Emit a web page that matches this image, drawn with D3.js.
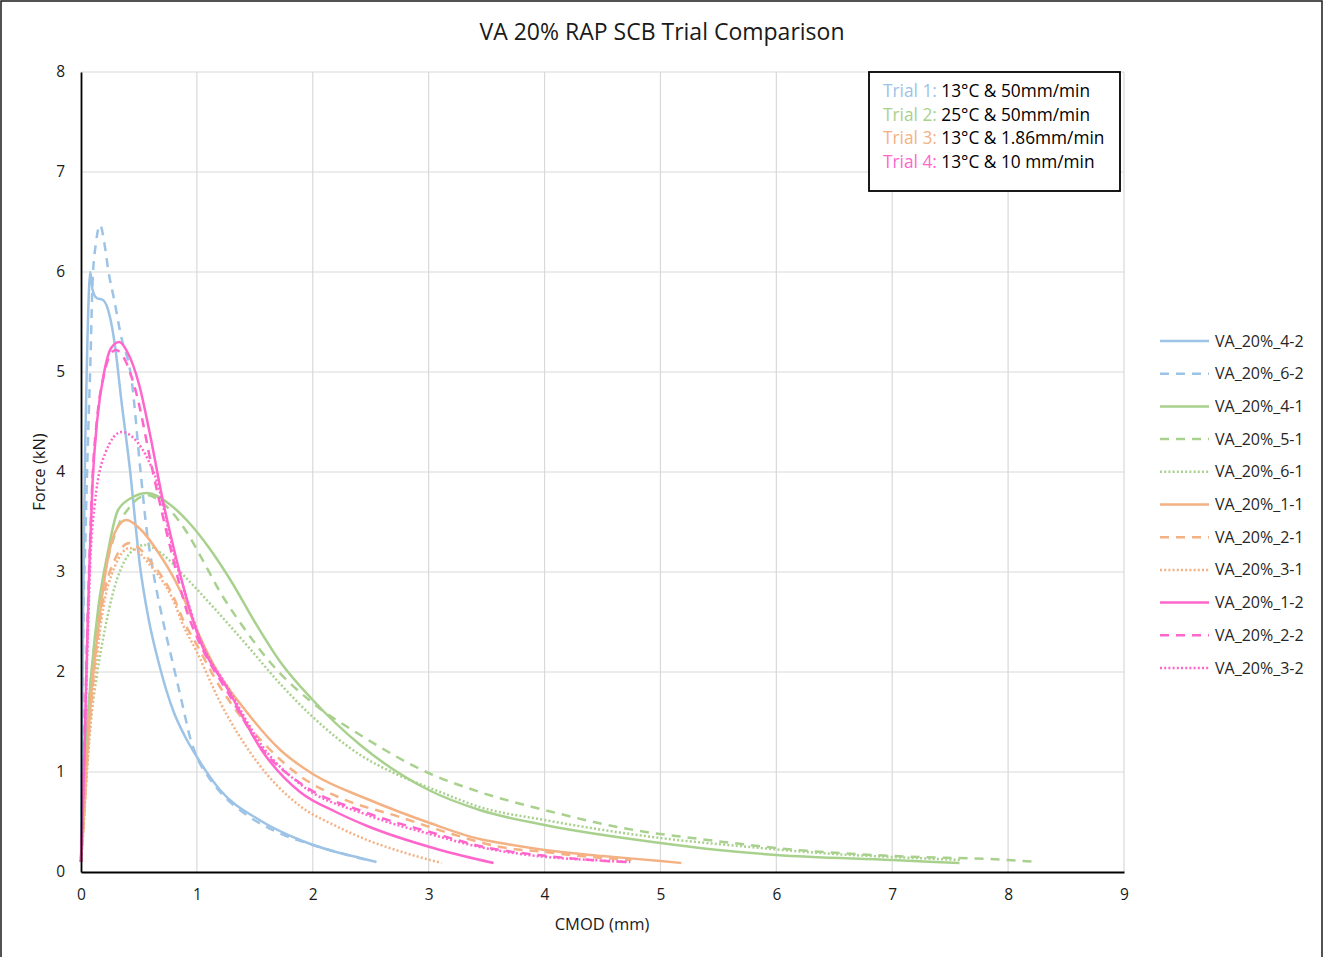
<!DOCTYPE html>
<html>
<head>
<meta charset="utf-8">
<script src="https://cdnjs.cloudflare.com/ajax/libs/d3/7.8.5/d3.min.js"></script>
<style>
  body { margin: 0; background: #fff; }
  svg { display: block; font-family: "Open Sans", "Noto Sans", sans-serif; }
  .grid line { stroke: #d9d9d9; stroke-width: 1.2; }
  .axis text { fill: #1a1a1a; font-size: 15.5px; font-family: "Open Sans", "Noto Sans", sans-serif; }
  .axis path { stroke: #000; stroke-width: 1.8; }
</style>
</head>
<body>
<script>
// CMOD (mm), Force (kN)
var va_4_2 = [[0,0.1],[0.01,1.5],[0.02,2.8],[0.035,4.2],[0.055,5.3],[0.08,6.0],[0.1,5.82],[0.135,5.74],[0.19,5.72],[0.25,5.55],[0.29,5.29],[0.35,4.7],[0.42,4.05],[0.51,3.05],[0.58,2.55],[0.68,2.05],[0.8,1.6],[0.9,1.35],[1.0,1.15],[1.2,0.82],[1.54,0.52],[1.89,0.32],[2.2,0.2],[2.41,0.14],[2.55,0.1]];
var va_6_2 = [[0,0.1],[0.01,1.0],[0.02,2.5],[0.035,3.2],[0.05,3.9],[0.065,4.5],[0.08,5.05],[0.1,5.9],[0.13,6.3],[0.165,6.47],[0.2,6.3],[0.235,6.02],[0.29,5.7],[0.34,5.39],[0.44,4.89],[0.51,4.05],[0.57,3.39],[0.62,3.02],[0.7,2.55],[0.8,2.05],[0.88,1.65],[0.94,1.35],[1.0,1.15],[1.1,0.95],[1.2,0.8],[1.43,0.57],[1.69,0.4],[2.0,0.27],[2.3,0.17],[2.5,0.11]];
var va_4_1 = [[0,0.1],[0.02,0.7],[0.05,1.4],[0.09,2.0],[0.15,2.65],[0.23,3.19],[0.32,3.62],[0.45,3.75],[0.57,3.79],[0.75,3.69],[0.95,3.47],[1.1,3.25],[1.3,2.9],[1.5,2.5],[1.72,2.1],[2.0,1.72],[2.41,1.27],[3.0,0.82],[3.44,0.62],[4.0,0.47],[5.0,0.29],[5.5,0.22],[6.0,0.17],[7.0,0.12],[7.58,0.09]];
var va_5_1 = [[0,0.1],[0.03,0.9],[0.07,1.7],[0.13,2.4],[0.2,2.95],[0.3,3.4],[0.42,3.65],[0.57,3.77],[0.67,3.72],[0.9,3.42],[1.04,3.14],[1.2,2.8],[1.4,2.45],[1.63,2.1],[2.0,1.69],[2.41,1.37],[2.98,1.0],[3.44,0.8],[4.0,0.62],[4.77,0.42],[5.34,0.33],[5.77,0.27],[6.0,0.24],[7.0,0.16],[8.0,0.12],[8.26,0.1]];
var va_6_1 = [[0,0.1],[0.02,0.45],[0.05,0.99],[0.08,1.45],[0.135,1.95],[0.21,2.45],[0.29,2.85],[0.38,3.12],[0.45,3.22],[0.55,3.27],[0.7,3.18],[0.9,2.95],[1.14,2.65],[1.43,2.27],[1.72,1.88],[2.0,1.55],[2.41,1.17],[2.7,0.99],[3.1,0.8],[3.44,0.65],[4.0,0.52],[5.0,0.34],[5.77,0.25],[6.5,0.18],[7.0,0.15],[7.6,0.12]];
var va_1_1 = [[0,0.1],[0.02,0.45],[0.05,1.12],[0.09,1.79],[0.15,2.45],[0.23,3.12],[0.29,3.39],[0.39,3.52],[0.52,3.42],[0.67,3.19],[0.81,2.92],[0.92,2.65],[1.0,2.42],[1.14,2.08],[1.43,1.6],[1.72,1.22],[2.0,0.98],[2.47,0.73],[3.01,0.49],[3.44,0.33],[3.62,0.29],[4.0,0.22],[4.5,0.16],[5.0,0.11],[5.18,0.09]];
var va_2_1 = [[0,0.1],[0.02,0.42],[0.05,1.05],[0.09,1.7],[0.18,2.65],[0.29,3.12],[0.42,3.29],[0.61,3.09],[0.81,2.72],[0.87,2.55],[1.0,2.27],[1.2,1.85],[1.43,1.48],[1.6,1.26],[1.89,0.96],[2.2,0.76],[2.75,0.55],[3.2,0.38],[3.62,0.25],[4.0,0.2],[4.4,0.15],[4.75,0.12]];
var va_3_1 = [[0,0.1],[0.02,0.4],[0.05,1.0],[0.1,1.7],[0.18,2.55],[0.29,3.05],[0.42,3.24],[0.61,3.05],[0.81,2.68],[0.87,2.5],[1.0,2.2],[1.2,1.7],[1.52,1.1],[1.89,0.66],[2.2,0.46],[2.47,0.32],[2.8,0.19],[3.11,0.09]];
var va_1_2 = [[0,0.1],[0.02,0.8],[0.035,1.45],[0.057,2.45],[0.075,3.15],[0.1,3.9],[0.14,4.52],[0.2,5.0],[0.26,5.24],[0.33,5.3],[0.4,5.2],[0.5,4.88],[0.6,4.35],[0.7,3.75],[0.81,3.19],[0.95,2.58],[1.0,2.4],[1.29,1.78],[1.57,1.2],[1.89,0.8],[2.2,0.6],[2.47,0.46],[3.04,0.24],[3.3,0.16],[3.56,0.09]];
var va_2_2 = [[0,0.1],[0.02,0.85],[0.035,1.5],[0.055,2.45],[0.075,3.2],[0.1,3.95],[0.14,4.55],[0.2,4.98],[0.25,5.17],[0.3,5.22],[0.38,5.12],[0.47,4.82],[0.62,4.0],[0.78,3.2],[0.93,2.55],[1.0,2.35],[1.29,1.75],[1.57,1.22],[1.89,0.89],[2.47,0.59],[3.04,0.39],[3.44,0.26],[4.02,0.16],[4.4,0.12],[4.71,0.1]];
var va_3_2 = [[0,0.1],[0.02,0.8],[0.04,1.6],[0.06,2.4],[0.08,3.1],[0.12,3.69],[0.21,4.19],[0.35,4.4],[0.47,4.32],[0.58,4.12],[0.67,3.85],[0.72,3.6],[0.81,3.15],[0.95,2.6],[1.0,2.42],[1.29,1.8],[1.57,1.25],[1.89,0.88],[2.47,0.57],[3.04,0.37],[3.44,0.25],[4.02,0.15],[4.4,0.12],[4.74,0.1]];

var seriesNames = ["VA_20%_4-2","VA_20%_6-2","VA_20%_4-1","VA_20%_5-1","VA_20%_6-1","VA_20%_1-1","VA_20%_2-1","VA_20%_3-1","VA_20%_1-2","VA_20%_2-2","VA_20%_3-2"];
var seriesData = [va_4_2, va_6_2, va_4_1, va_5_1, va_6_1, va_1_1, va_2_1, va_3_1, va_1_2, va_2_2, va_3_2];
var seriesTrial = [0,0,1,1,1,2,2,2,3,3,3];
var seriesStyle = ["solid","dash","solid","dash","dot","solid","dash","dot","solid","dash","dot"];

var trialLabels = ["Trial 1:","Trial 2:","Trial 3:","Trial 4:"];
var trialText = ["13°C & 50mm/min","25°C & 50mm/min","13°C & 1.86mm/min","13°C & 10 mm/min"];
var trialColors = ["#9dc3e6","#a9d18e","#f4b183","#ff66cc"];

var xTicks = [0,1,2,3,4,5,6,7,8,9];
var yTicks = [0,1,2,3,4,5,6,7,8];

var w = 1324, h = 957;
var padL = 81, padR = 1124, padT = 72, padB = 872;

var dashes = { solid: null, dash: "9,7", dot: "2,2.2" };

var svg = d3.select("body").append("svg")
    .attr("width", w)
    .attr("height", h);

svg.append("rect")
    .attr("x", 1).attr("y", 1)
    .attr("width", w - 3).attr("height", h + 5)
    .attr("fill", "#fff")
    .attr("stroke", "#1a1a1a")
    .attr("stroke-width", 1.5);

var xScale = d3.scaleLinear().domain([0, 9]).range([padL, padR]);
var yScale = d3.scaleLinear().domain([0, 8]).range([padB, padT]);

// gridlines
svg.append("g").attr("class", "grid")
    .selectAll("line")
    .data(yTicks.slice(1))
    .enter().append("line")
    .attr("x1", padL).attr("x2", padR)
    .attr("y1", function (d) { return yScale(d); })
    .attr("y2", function (d) { return yScale(d); });

svg.append("g").attr("class", "grid")
    .selectAll("line")
    .data(xTicks.slice(1))
    .enter().append("line")
    .attr("y1", padT).attr("y2", padB)
    .attr("x1", function (d) { return xScale(d); })
    .attr("x2", function (d) { return xScale(d); });

// curves
var line = d3.line()
    .x(function (d) { return xScale(d[0]); })
    .y(function (d) { return yScale(d[1]); })
    .curve(d3.curveMonotoneX);

svg.append("g").selectAll("path")
    .data(seriesData)
    .enter().append("path")
    .attr("d", line)
    .attr("fill", "none")
    .attr("stroke", function (d, i) { return trialColors[seriesTrial[i]]; })
    .attr("stroke-width", 2.5)
    .attr("stroke-dasharray", function (d, i) { return dashes[seriesStyle[i]]; });

// axes
var xAxis = d3.axisBottom(xScale).tickValues(xTicks).tickSize(0).tickPadding(17).tickFormat(d3.format("d"));
svg.append("g")
    .attr("class", "axis")
    .attr("transform", "translate(0," + padB + ")")
    .call(xAxis);

var yAxis = d3.axisLeft(yScale).tickValues(yTicks).tickSize(0).tickPadding(16).tickFormat(d3.format("d"));
svg.append("g")
    .attr("class", "axis")
    .attr("transform", "translate(" + padL + ",0)")
    .call(yAxis);

// titles
svg.append("text")
    .attr("x", 662).attr("y", 40)
    .attr("text-anchor", "middle")
    .attr("font-size", 23)
    .attr("fill", "#1a1a1a")
    .text("VA 20% RAP SCB Trial Comparison");

svg.append("text")
    .attr("x", 602).attr("y", 930)
    .attr("text-anchor", "middle")
    .attr("font-size", 16.5)
    .attr("fill", "#1a1a1a")
    .text("CMOD (mm)");

svg.append("text")
    .attr("transform", "translate(45,472) rotate(-90)")
    .attr("text-anchor", "middle")
    .attr("font-size", 16.5)
    .attr("fill", "#1a1a1a")
    .text("Force (kN)");

// trial box
svg.append("rect")
    .attr("x", 869).attr("y", 72)
    .attr("width", 251).attr("height", 119)
    .attr("fill", "#fff")
    .attr("stroke", "#000")
    .attr("stroke-width", 1.8);

var box = svg.append("g").selectAll("text")
    .data(trialLabels)
    .enter().append("text")
    .attr("x", 883)
    .attr("y", function (d, i) { return 97 + i * 23.5; })
    .attr("font-size", 17.3);
box.append("tspan")
    .attr("fill", function (d, i) { return trialColors[i]; })
    .text(function (d) { return d; });
box.append("tspan")
    .attr("fill", "#000")
    .text(function (d, i) { return " " + trialText[i]; });

// series legend
var leg = svg.append("g").selectAll("g")
    .data(seriesNames)
    .enter().append("g")
    .attr("transform", function (d, i) { return "translate(0," + (341 + i * 32.7) + ")"; });

leg.append("line")
    .attr("x1", 1160).attr("x2", 1209)
    .attr("stroke", function (d, i) { return trialColors[seriesTrial[i]]; })
    .attr("stroke-width", 2.5)
    .attr("stroke-dasharray", function (d, i) { return dashes[seriesStyle[i]]; });

leg.append("text")
    .attr("x", 1215).attr("y", 5.5)
    .attr("font-size", 16)
    .attr("fill", "#262626")
    .text(function (d) { return d; });
</script>
</body>
</html>
